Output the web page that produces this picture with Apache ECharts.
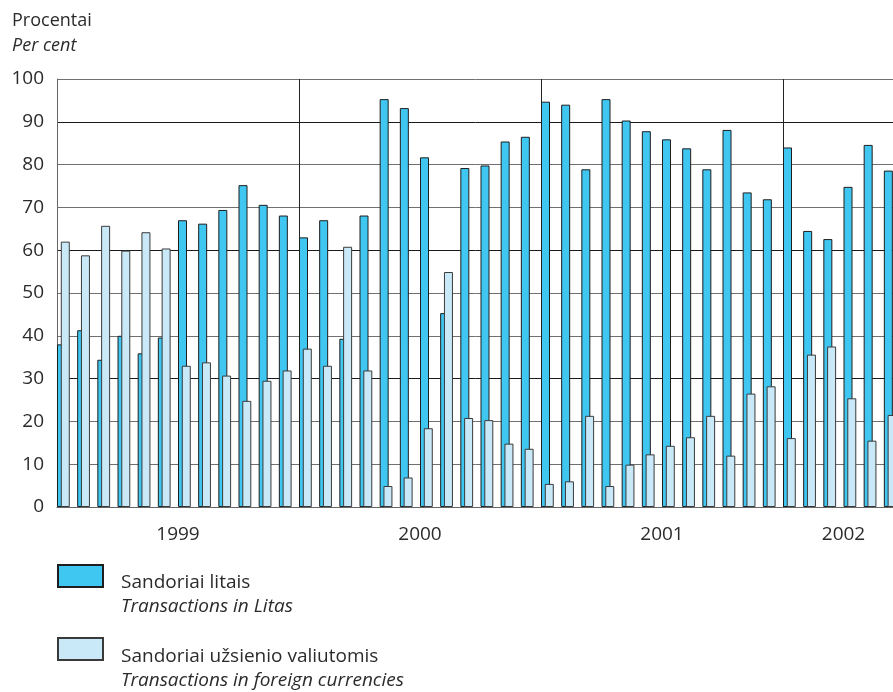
<!DOCTYPE html>
<html>
<head>
<meta charset="utf-8">
<script src="https://cdn.jsdelivr.net/npm/echarts@6/dist/echarts.min.js"></script>
<style>
html,body{margin:0;padding:0;background:#fff;}
#chart{width:893px;height:692px;}
</style>
</head>
<body>
<div id="chart"></div>
<script>
// ---- data ----
const years = ['1999','2000','2001','2002'];
const monthsPerYear = [12, 12, 12, 6];
const months = [];
years.forEach((y, i) => { for (let m = 1; m <= monthsPerYear[i]; m++) months.push(y + '-' + (m < 10 ? '0' + m : m)); });

const litas = [
  38.0, 41.3, 34.4, 40.0, 35.9, 39.6, 67.0, 66.2, 69.4, 75.2, 70.6, 68.1,
  63.0, 67.0, 39.3, 68.1, 95.3, 93.2, 81.7, 45.3, 79.2, 79.8, 85.4, 86.5,
  94.7, 94.0, 78.9, 95.3, 90.3, 87.8, 85.9, 83.8, 78.9, 88.1, 73.5, 71.9,
  84.0, 64.5, 62.6, 74.8, 84.6, 78.6
];
const foreign = [
  62.0, 58.8, 65.7, 59.9, 64.2, 60.4, 33.0, 33.8, 30.7, 24.8, 29.5, 31.9,
  37.0, 33.0, 60.8, 31.9, 4.9, 6.9, 18.4, 54.9, 20.8, 20.3, 14.8, 13.6,
  5.4, 6.0, 21.3, 4.9, 9.9, 12.3, 14.3, 16.3, 21.3, 12.0, 26.5, 28.2,
  16.1, 35.6, 37.5, 25.4, 15.5, 21.5
];
const yTicks = [0, 10, 20, 30, 40, 50, 60, 70, 80, 90, 100];
const seriesNames = ['Sandoriai litais', 'Sandoriai užsienio valiutomis'];
const seriesNamesEn = ['Transactions in Litas', 'Transactions in foreign currencies'];

// year label positions: middle of each year's months
const yearLabelIdx = {};
let start = 0;
years.forEach((y, i) => { yearLabelIdx[start + Math.floor(monthsPerYear[i] / 2)] = y; start += monthsPerYear[i]; });

const FONT = '"Open Sans", sans-serif';
const TXT = '#2b2b2b';

const chart = echarts.init(document.getElementById('chart'), null, {renderer: 'canvas'});

function legendFormatter(name) {
  const i = seriesNames.indexOf(name);
  return '{a|' + name + '}\n{b|' + seriesNamesEn[i] + '}';
}
const legendRich = {
  a: {fontFamily: FONT, fontSize: 19, color: TXT, lineHeight: 24},
  b: {fontFamily: FONT, fontSize: 19, fontStyle: 'italic', color: TXT, lineHeight: 24}
};

chart.setOption({
  animation: false,
  backgroundColor: '#ffffff',
  title: {
    left: 12, top: 8, padding: 0,
    text: '{a|Procentai}\n{b|Per cent}',
    textStyle: {
      fontWeight: 'normal',
      rich: {
        a: {fontFamily: FONT, fontSize: 18, fontWeight: 'normal', color: TXT, lineHeight: 25},
        b: {fontFamily: FONT, fontSize: 18, fontWeight: 'normal', fontStyle: 'italic', color: TXT, lineHeight: 25}
      }
    }
  },
  legend: [
    {
      data: [seriesNames[0]], left: 57, top: 564, padding: 0, orient: 'vertical', icon: 'rect',
      itemWidth: 45, itemHeight: 22, selectedMode: false,
      formatter: legendFormatter,
      textStyle: {rich: legendRich, padding: [38, 0, 0, 13]}
    },
    {
      data: [seriesNames[1]], left: 57, top: 637, padding: 0, orient: 'vertical', icon: 'rect',
      itemWidth: 45, itemHeight: 22, selectedMode: false,
      formatter: legendFormatter,
      textStyle: {rich: legendRich, padding: [40, 0, 0, 13]}
    }
  ],
  grid: {left: 57, top: 79, width: 847, height: 428, containLabel: false, outerBoundsMode: 'none'},
  xAxis: {
    type: 'category',
    data: months,
    boundaryGap: true,
    axisLine: {show: true, lineStyle: {color: '#666', width: 1}},
    axisTick: {show: false},
    splitLine: {
      show: true,
      interval: (idx, val) => String(val).slice(5) === '01',
      lineStyle: {color: '#222', width: 1}
    },
    axisLabel: {
      interval: (idx) => yearLabelIdx[idx] !== undefined,
      formatter: (val, idx) => yearLabelIdx[idx] || '',
      fontFamily: FONT, fontSize: 19, color: TXT,
      margin: 18,
      padding: [0, 20.17, 0, 0]
    }
  },
  yAxis: {
    type: 'value',
    min: 0, max: 100, interval: 10,
    axisLine: {show: true, lineStyle: {color: '#666', width: 1}},
    axisTick: {show: false},
    axisLabel: {fontFamily: FONT, fontSize: 19, color: TXT, margin: 13,
      formatter: v => yTicks.indexOf(v) >= 0 ? String(v) : ''},
    splitLine: {show: true, lineStyle: {color: ['#1a1a1a', '#707070', '#707070'], width: 1}}
  },
  series: [
    {
      name: seriesNames[0], type: 'bar', data: litas,
      barWidth: 9, barGap: '-58%',
      itemStyle: {color: '#3fc7f2', borderColor: '#1e1e1e', borderWidth: 1}
    },
    {
      name: seriesNames[1], type: 'bar', data: foreign,
      barWidth: 9, barGap: '-58%',
      itemStyle: {color: '#c9e9f8', borderColor: '#3a3a3a', borderWidth: 1}
    },
    {
      name: 'pad', type: 'bar', data: months.map(() => null),
      barWidth: 12.6, barGap: '-58%', silent: true,
      itemStyle: {color: 'rgba(0,0,0,0)'}
    }
  ]
});
</script>
</body>
</html>
